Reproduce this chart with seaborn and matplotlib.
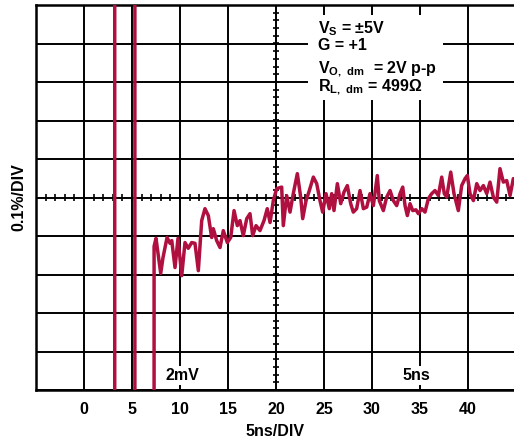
import numpy as np
import pandas as pd
import matplotlib
matplotlib.use("Agg")
import matplotlib.pyplot as plt
from matplotlib.patches import Rectangle
import seaborn as sns

# Settling trace, x in ns, y in divisions (0.1%/DIV)
trace_x = [3.2, 3.2, 5.3, 5.3, 7.3, 7.3,
           7.50, 7.99, 8.23, 8.65, 8.96, 9.14, 9.48, 9.79, 10.18, 10.52,
           10.86, 11.22, 11.56, 11.91, 12.26, 12.60, 12.95, 13.30, 13.47, 13.82,
           14.17, 14.51, 14.93, 15.28, 15.63, 15.97, 16.25, 16.59, 16.95, 17.29,
           17.57, 17.92, 18.33, 18.75, 19.09, 19.38, 19.72, 20.07,
           20.59, 20.76, 21.11, 21.46, 21.80, 22.22, 22.57, 22.78, 23.13, 23.47,
           23.89, 24.24, 24.58, 24.86, 25.21, 25.55, 25.80, 26.04, 26.39, 26.74,
           27.08, 27.43, 27.78, 28.05, 28.40, 28.75, 29.10, 29.45, 29.79, 30.14,
           30.55, 30.76, 31.18, 31.53, 31.88, 32.22,
           32.57, 32.92, 33.20, 33.44, 33.68, 33.96, 34.24, 34.58, 34.83, 35.18,
           35.52, 35.87, 36.22, 36.56, 36.91, 37.26, 37.53, 37.78, 38.20, 38.54,
           38.99, 39.34, 39.69, 39.93, 40.21, 40.56, 40.91, 41.25, 41.60, 41.95,
           42.29, 42.64, 42.99, 43.33, 43.68, 44.03, 44.38, 44.72]
trace_y = [-6, 6, 6, -6, -6, -1.27,
           -1.06, -1.97, -1.56, -1.04, -1.19, -1.12, -1.82, -1.06, -2.03, -1.17,
           -1.32, -1.17, -1.19, -1.90, -0.60, -0.29, -0.47, -1.04, -0.81, -1.12,
           -1.30, -0.86, -1.17, -1.04, -0.34, -0.73, -0.60, -0.99, -0.55, -0.42,
           -0.99, -0.73, -0.86, -0.60, -0.29, -0.65, -0.08, 0.23,
           0.27, -0.73, 0.05, -0.38, 0.10, 0.62, 0.01, -0.55, -0.08, 0.18,
           0.53, 0.36, -0.08, -0.38, 0.10, -0.29, 0.10, -0.34, 0.36, -0.16,
           0.14, 0.31, -0.16, -0.38, -0.29, 0.18, -0.29, -0.25, 0.10, -0.21,
           0.57, -0.08, -0.34, 0.01, 0.18, -0.08,
           -0.21, 0.10, 0.27, -0.21, -0.47, -0.16, -0.34, -0.32, -0.42, -0.29,
           -0.38, -0.03, 0.10, 0.18, 0.05, 0.53, 0.10, 0.01, 0.66, 0.10,
           -0.34, 0.31, 0.49, 0.57, 0.10, -0.08, 0.36, 0.18, 0.31, 0.10,
           0.40, 0.01, -0.12, 0.75, 0.40, 0.44, 0.05, 0.49]

x_ticks = [0, 5, 10, 15, 20, 25, 30, 35, 40]
notes = [r"V$_{S}$ = ±5V", "G = +1", r"V$_{O,\ dm}$  = 2V p-p", r"R$_{L,\ dm}$ = 499Ω"]

sns.set_style("white")
plt.rcParams["font.family"] = ["Liberation Sans", "DejaVu Sans"]
plt.rcParams["font.weight"] = "bold"
plt.rcParams["text.color"] = "black"
plt.rcParams["axes.labelcolor"] = "black"
plt.rcParams["xtick.color"] = "black"
plt.rcParams["mathtext.fontset"] = "custom"
plt.rcParams["mathtext.rm"] = "Liberation Sans:bold"
plt.rcParams["mathtext.bf"] = "Liberation Sans:bold"
plt.rcParams["mathtext.default"] = "rm"

fig = plt.figure(figsize=(5.14, 4.38), dpi=100)
ax = fig.add_axes([36 / 514, 48 / 438, 478 / 514, 385 / 438])

df = pd.DataFrame({"t": trace_x, "v": trace_y})
sns.lineplot(data=df, x="t", y="v", sort=False, estimator=None, ax=ax,
             color="#B01040", linewidth=2.5, zorder=4)

ax.set_xlim(-5, 44.79)
ax.set_ylim(-5, 5)
ax.set_xticks(range(-5, 45, 5))
ax.set_xticklabels([""] + [str(v) for v in x_ticks], fontsize=11.5, fontweight="bold")
ax.set_yticks(range(-5, 6))
ax.set_yticklabels([])
ax.tick_params(axis="both", length=0, pad=9, labelcolor="black")
ax.grid(True, color="black", linewidth=1.4)
ax.set_axisbelow(True)

for side in ["left", "bottom", "top"]:
    ax.spines[side].set_color("black")
    ax.spines[side].set_linewidth(1.8)
ax.spines["right"].set_visible(False)

# small ticks along the centre cross
mx = np.arange(-5, 45, 1)
ax.vlines(mx, -0.1, 0.1, color="black", linewidth=1.2, zorder=1.5)
my = np.arange(-5, 5.01, 0.2)
ax.hlines(my, 19.7, 20.3, color="black", linewidth=1.2, zorder=1.5)

ax.set_xlabel("5ns/DIV", fontsize=11.5, fontweight="bold", labelpad=5, color="black")
ax.set_ylabel("0.1%/DIV", fontsize=11.5, fontweight="bold", color="black")
ax.yaxis.set_label_coords(-0.021, 0.5)

ax.add_patch(Rectangle((23.33, 2.52), 14.05, 2.21, facecolor="white",
                       edgecolor="none", zorder=2))
for txt, yb in zip(notes, [4.26, 3.82, 3.25, 2.78]):
    ax.text(24.4, yb, txt, fontsize=11.5, fontweight="bold", va="baseline",
            ha="left", color="black", zorder=5)

box = dict(facecolor="white", edgecolor="none", pad=1.5)
ax.text(10.2, -4.62, "2mV", fontsize=11.5, fontweight="bold", ha="center",
        va="center", color="black", bbox=box, zorder=5)
ax.text(34.6, -4.62, "5ns", fontsize=11.5, fontweight="bold", ha="center",
        va="center", color="black", bbox=box, zorder=5)

plt.savefig("out.png", dpi=100)
plt.close()
